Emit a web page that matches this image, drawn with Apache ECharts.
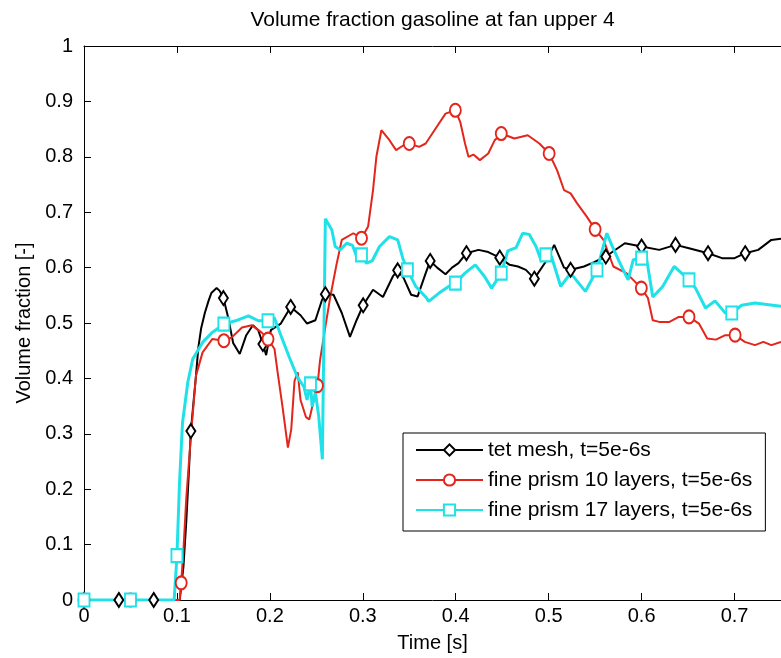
<!DOCTYPE html>
<html>
<head>
<meta charset="utf-8">
<title>Volume fraction gasoline at fan upper 4</title>
<script src="https://cdn.jsdelivr.net/npm/echarts@6/dist/echarts.min.js"></script>
<style>
  html, body { margin: 0; padding: 0; background: #fff; }
  #chart { width: 781px; height: 658px; }
</style>
</head>
<body>
<div id="chart"></div>
<script>
// data: [time s, volume fraction]
const titleText = 'Volume fraction gasoline at fan upper 4'
const seriesNames = ['tet mesh, t=5e-6s', 'fine prism 10 layers, t=5e-6s', 'fine prism 17 layers, t=5e-6s']

const tetCurve = [
  [0, 0], [0.1, 0], [0.103, 0], [0.107, 0.06], [0.110, 0.14], [0.1125, 0.22], [0.115, 0.305],
  [0.118, 0.36], [0.1205, 0.405], [0.123, 0.455], [0.126, 0.49], [0.130, 0.518], [0.134, 0.54],
  [0.137, 0.554], [0.1427, 0.563], [0.146, 0.558], [0.150, 0.545], [0.155, 0.511], [0.1605, 0.464],
  [0.1676, 0.444], [0.1746, 0.478], [0.1817, 0.496], [0.1875, 0.487], [0.196, 0.442], [0.201, 0.487],
  [0.2118, 0.499], [0.2224, 0.529], [0.233, 0.514], [0.240, 0.499], [0.249, 0.505], [0.256, 0.541],
  [0.2597, 0.552], [0.2685, 0.551], [0.2774, 0.518], [0.2862, 0.475], [0.2933, 0.505], [0.3004, 0.532],
  [0.311, 0.560], [0.3217, 0.547], [0.3323, 0.584], [0.3375, 0.595], [0.344, 0.581], [0.352, 0.551],
  [0.359, 0.548], [0.3677, 0.590], [0.3725, 0.612], [0.380, 0.600], [0.389, 0.588], [0.396, 0.600],
  [0.403, 0.608], [0.4115, 0.626], [0.4245, 0.632], [0.435, 0.628], [0.4474, 0.618], [0.458, 0.605],
  [0.467, 0.602], [0.4755, 0.596], [0.4846, 0.580], [0.497, 0.611], [0.506, 0.641], [0.5165, 0.600],
  [0.5236, 0.596], [0.538, 0.602], [0.549, 0.610], [0.5615, 0.620], [0.570, 0.630], [0.582, 0.644],
  [0.600, 0.638], [0.619, 0.632], [0.6365, 0.641], [0.651, 0.635], [0.6715, 0.626], [0.6865, 0.617],
  [0.700, 0.617], [0.7115, 0.626], [0.7255, 0.632], [0.7396, 0.650], [0.75, 0.652]
]
const tetMarks = [
  [0, 0], [0.0375, 0], [0.075, 0], [0.115, 0.305], [0.150, 0.545], [0.1925, 0.462], [0.2224, 0.529],
  [0.2597, 0.552], [0.3004, 0.532], [0.3375, 0.595], [0.3725, 0.612], [0.4115, 0.626], [0.4474, 0.618],
  [0.4846, 0.580], [0.5236, 0.596], [0.5615, 0.620], [0.600, 0.638], [0.6365, 0.641], [0.6715, 0.626],
  [0.7115, 0.626]
]

const prism10Curve = [
  [0, 0], [0.1, 0], [0.103, 0], [0.1046, 0.031], [0.107, 0.09], [0.110, 0.182], [0.115, 0.296],
  [0.1205, 0.405], [0.1276, 0.447], [0.138, 0.471], [0.1505, 0.468], [0.159, 0.474], [0.170, 0.492],
  [0.1806, 0.496], [0.191, 0.483], [0.198, 0.471], [0.205, 0.453], [0.2085, 0.409], [0.2136, 0.349],
  [0.2194, 0.275], [0.223, 0.308], [0.2265, 0.395], [0.230, 0.411], [0.233, 0.361], [0.2389, 0.330],
  [0.2424, 0.326], [0.249, 0.373], [0.2512, 0.387], [0.254, 0.433], [0.2597, 0.493], [0.265, 0.547],
  [0.272, 0.608], [0.2774, 0.650], [0.2898, 0.662], [0.2986, 0.653], [0.3057, 0.674], [0.311, 0.740],
  [0.3146, 0.800], [0.320, 0.848], [0.3287, 0.830], [0.3358, 0.812], [0.343, 0.820], [0.350, 0.824],
  [0.3606, 0.818], [0.3677, 0.824], [0.3748, 0.842], [0.389, 0.878], [0.3996, 0.884], [0.405, 0.862],
  [0.410, 0.824], [0.4137, 0.800], [0.419, 0.804], [0.426, 0.794], [0.435, 0.806], [0.442, 0.830],
  [0.449, 0.842], [0.463, 0.833], [0.4775, 0.839], [0.490, 0.824], [0.5005, 0.806], [0.509, 0.776],
  [0.5165, 0.740], [0.5236, 0.734], [0.5306, 0.716], [0.541, 0.692], [0.550, 0.669], [0.559, 0.650],
  [0.5696, 0.602], [0.5837, 0.590], [0.5997, 0.563], [0.6068, 0.545], [0.612, 0.505], [0.619, 0.502],
  [0.630, 0.502], [0.640, 0.511], [0.651, 0.511], [0.6617, 0.499], [0.6706, 0.472], [0.680, 0.470],
  [0.690, 0.478], [0.7006, 0.478], [0.711, 0.466], [0.722, 0.460], [0.731, 0.466], [0.7396, 0.460],
  [0.75, 0.466]
]
const prism10Marks = [
  [0, 0], [0.05, 0], [0.1046, 0.031], [0.1505, 0.468], [0.198, 0.471], [0.2512, 0.387], [0.2986, 0.653],
  [0.350, 0.824], [0.3996, 0.884], [0.449, 0.842], [0.5005, 0.806], [0.550, 0.669], [0.5997, 0.563],
  [0.651, 0.511], [0.7006, 0.478]
]

const prism17Curve = [
  [0, 0], [0.097, 0], [0.0993, 0.06], [0.1028, 0.212], [0.106, 0.320], [0.1117, 0.393], [0.117, 0.435],
  [0.1276, 0.465], [0.138, 0.483], [0.1505, 0.498], [0.163, 0.504], [0.177, 0.513], [0.1876, 0.504],
  [0.198, 0.504], [0.2047, 0.510], [0.2118, 0.478], [0.2207, 0.439], [0.2295, 0.403], [0.2366, 0.385],
  [0.240, 0.361], [0.2437, 0.390], [0.2455, 0.349], [0.249, 0.375], [0.2526, 0.331], [0.2565, 0.254],
  [0.2597, 0.688], [0.2667, 0.668], [0.2703, 0.638], [0.2756, 0.632], [0.2827, 0.644], [0.289, 0.640],
  [0.2933, 0.620], [0.2986, 0.623], [0.304, 0.608], [0.310, 0.612], [0.318, 0.638], [0.3287, 0.656],
  [0.3376, 0.650], [0.343, 0.617], [0.348, 0.596], [0.357, 0.566], [0.3677, 0.547], [0.371, 0.539],
  [0.382, 0.554], [0.3924, 0.566], [0.3996, 0.572], [0.410, 0.590], [0.421, 0.605], [0.431, 0.584],
  [0.4386, 0.563], [0.449, 0.590], [0.456, 0.630], [0.465, 0.636], [0.472, 0.662], [0.479, 0.660],
  [0.4864, 0.638], [0.4916, 0.614], [0.497, 0.623], [0.503, 0.620], [0.513, 0.566], [0.5236, 0.590],
  [0.5395, 0.557], [0.552, 0.596], [0.5626, 0.662], [0.568, 0.640], [0.5767, 0.608], [0.5855, 0.578],
  [0.591, 0.614], [0.605, 0.620], [0.612, 0.547], [0.6227, 0.566], [0.635, 0.602], [0.643, 0.590],
  [0.651, 0.578], [0.658, 0.563], [0.6688, 0.527], [0.679, 0.540], [0.690, 0.518], [0.697, 0.518],
  [0.7077, 0.532], [0.722, 0.536], [0.741, 0.532], [0.75, 0.530]
]
const prism17Marks = [
  [0, 0], [0.05, 0], [0.1, 0.08], [0.1505, 0.498], [0.198, 0.504], [0.2437, 0.390], [0.2986, 0.623],
  [0.348, 0.596], [0.3996, 0.572], [0.449, 0.590], [0.497, 0.623], [0.552, 0.596], [0.600, 0.617],
  [0.651, 0.578], [0.697, 0.518]
]

const lineColors = ['#000000', '#e3261c', '#1fe2e8']

// curve points carry no symbol, marker points get the series symbol
function buildData(curve, marks) {
  const pts = curve.map(p => ({ value: p, symbol: 'none' }))
    .concat(marks.map(p => ({ value: p })))
  pts.sort((a, b) => a.value[0] - b.value[0])
  return pts
}

const chart = echarts.init(document.getElementById('chart'))
const font = 'Liberation Sans'

const xBase = {
  type: 'value',
  min: 0,
  max: 0.75,
  interval: 0.1,
  axisLine: { onZero: false, lineStyle: { color: '#000', width: 1 } },
  axisTick: { inside: true, length: 7, lineStyle: { color: '#000' } },
  splitLine: { show: false },
  nameLocation: 'middle'
}

const option = {
  animation: false,
  textStyle: { fontFamily: font },
  grid: { left: 84, top: 46, width: 706, height: 554 },
  legend: {
    orient: 'vertical',
    left: 403,
    top: 433,
    padding: [5, 13, 9, 12],
    itemWidth: 67,
    itemHeight: 14,
    itemGap: 6,
    borderColor: '#000',
    borderWidth: 1,
    backgroundColor: '#fff',
    textStyle: { color: '#000', fontSize: 21, fontFamily: font, lineHeight: 24 },
    data: seriesNames
  },
  xAxis: [
    Object.assign({}, xBase, {
      position: 'bottom',
      axisLabel: { color: '#000', fontSize: 20, margin: 6, showMaxLabel: false },
      name: 'Time [s]',
      nameGap: 33,
      nameTextStyle: { color: '#000', fontSize: 20 }
    }),
    Object.assign({}, xBase, {
      position: 'top',
      axisLabel: { show: false },
      name: titleText,
      nameGap: 15,
      nameTextStyle: { color: '#000', fontSize: 21 }
    })
  ],
  yAxis: {
    type: 'value',
    min: 0,
    max: 1,
    interval: 0.1,
    axisLine: { show: true, onZero: false, lineStyle: { color: '#000', width: 1 } },
    axisTick: { show: true, inside: true, length: 7, lineStyle: { color: '#000' } },
    axisLabel: { color: '#000', fontSize: 20, margin: 11 },
    splitLine: { show: false },
    name: 'Volume fraction [-]',
    nameLocation: 'middle',
    nameGap: 47,
    nameTextStyle: { color: '#000', fontSize: 20 }
  },
  series: [
    {
      name: seriesNames[0], type: 'line', data: buildData(tetCurve, tetMarks),
      symbol: 'emptyDiamond', symbolSize: [9, 14], showAllSymbol: true,
      lineStyle: { color: lineColors[0], width: 2 },
      itemStyle: { color: lineColors[0], borderWidth: 2 }
    },
    {
      name: seriesNames[1], type: 'line', data: buildData(prism10Curve, prism10Marks),
      symbol: 'emptyCircle', symbolSize: [11, 13], showAllSymbol: true,
      lineStyle: { color: lineColors[1], width: 2 },
      itemStyle: { color: lineColors[1], borderWidth: 2 }
    },
    {
      name: seriesNames[2], type: 'line', data: buildData(prism17Curve, prism17Marks),
      symbol: 'emptyRect', symbolSize: [11, 13], showAllSymbol: true,
      lineStyle: { color: lineColors[2], width: 3 },
      itemStyle: { color: lineColors[2], borderWidth: 2 }
    }
  ]
}

chart.setOption(option)
</script>
</body>
</html>
